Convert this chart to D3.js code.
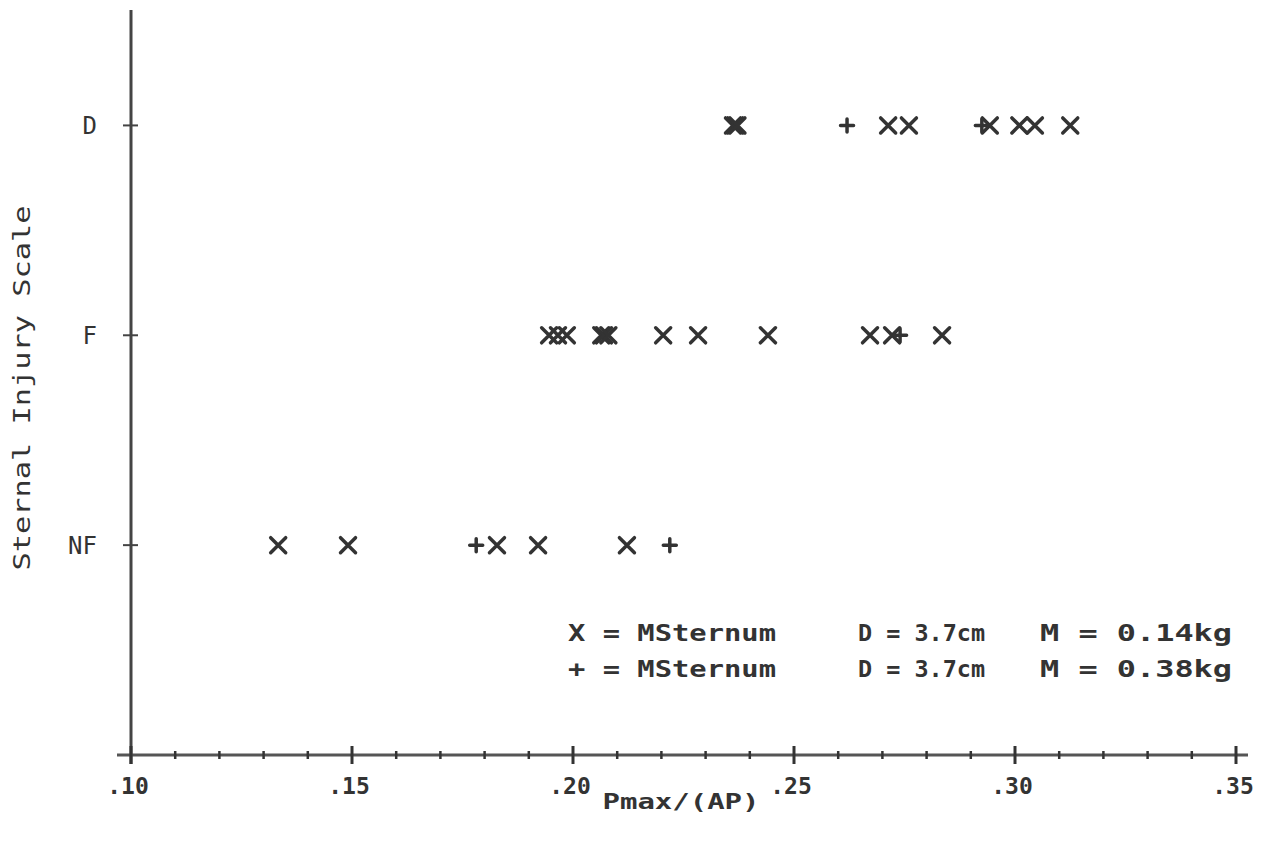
<!DOCTYPE html>
<html>
<head>
<meta charset="utf-8">
<script src="https://cdn.jsdelivr.net/npm/d3@7"></script>
<style>
  body { margin: 0; background: #fff; }
  text { fill: #333; }
</style>
</head>
<body>
<svg id="chart"></svg>
<script>
// categories on the y axis, bottom to top
const categories = ["NF", "F", "D"];

// X markers: M = 0.14kg
const lightNF = [0.1333, 0.1491, 0.1828, 0.1921, 0.2122];
const lightF = [0.1946, 0.1966, 0.1986, 0.2064, 0.2070, 0.2080, 0.2204, 0.2283, 0.2441, 0.2672, 0.2722, 0.2835];
const lightD = [0.2362, 0.2367, 0.2372, 0.2713, 0.2760, 0.2943, 0.3010, 0.3045, 0.3125];

// + markers: M = 0.38kg
const heavyNF = [0.1781, 0.2219];
const heavyF = [0.2740];
const heavyD = [0.2620, 0.2925];

const xTicks = d3.range(10, 36).map(d => d / 100);
const xMajor = [0.10, 0.15, 0.20, 0.25, 0.30, 0.35];

const legendRows = [
  ["X = MSternum", "D = 3.7cm", "M = 0.14kg"],
  ["+ = MSternum", "D = 3.7cm", "M = 0.38kg"]
];

const width = 1269, height = 843;
const ink = "#333";
const mono = "DejaVu Sans Mono, monospace";

const svg = d3.select("#chart").attr("width", width).attr("height", height);

const x = d3.scaleLinear().domain([0.10, 0.35]).range([131, 1236]);
const y = d3.scaleLinear().domain([0, 3.55]).range([755, 10]);

const isMajor = d => xMajor.some(m => Math.abs(m - d) < 1e-6);

// axes
svg.append("line")
    .attr("x1", x(0.10)).attr("x2", x(0.10))
    .attr("y1", y(3.55)).attr("y2", y(0) + 9)
    .attr("stroke", "#444").attr("stroke-width", 3);
svg.append("line")
    .attr("x1", x(0.10) - 14).attr("x2", x(0.35) + 12)
    .attr("y1", y(0)).attr("y2", y(0))
    .attr("stroke", "#555").attr("stroke-width", 3);

svg.append("g")
  .selectAll("line")
  .data(xTicks)
  .join("line")
    .attr("x1", d => x(d)).attr("x2", d => x(d))
    .attr("y1", d => y(0) - (isMajor(d) ? 9 : 4))
    .attr("y2", d => y(0) + (isMajor(d) ? 9 : 4))
    .attr("stroke", "#333")
    .attr("stroke-width", d => isMajor(d) ? 3 : 2.5);

const fmt = d => d3.format(".2f")(d).replace(/^0/, "");
svg.append("g")
    .attr("font-family", mono)
    .attr("font-weight", "bold")
    .attr("font-size", 23)
    .attr("text-anchor", "middle")
  .selectAll("text")
  .data(xMajor)
  .join("text")
    .attr("x", d => x(d) - 3)
    .attr("y", 794)
    .text(fmt);

svg.append("text")
    .attr("x", 681).attr("y", 809)
    .attr("text-anchor", "middle")
    .attr("font-family", mono)
    .attr("font-weight", "bold")
    .attr("font-size", 22)
    .attr("textLength", 157)
    .attr("lengthAdjust", "spacingAndGlyphs")
    .text("Pmax/(AP)");

// y ticks and labels
svg.append("g")
  .selectAll("line")
  .data(categories)
  .join("line")
    .attr("x1", x(0.10) - 8).attr("x2", x(0.10) + 7)
    .attr("y1", (d, i) => y(i + 1)).attr("y2", (d, i) => y(i + 1))
    .attr("stroke", "#444").attr("stroke-width", 2);

svg.append("g")
    .attr("font-family", mono)
    .attr("font-size", 24)
    .attr("text-anchor", "end")
  .selectAll("text")
  .data(categories)
  .join("text")
    .attr("x", 97)
    .attr("y", (d, i) => y(i + 1) + 9)
    .text(d => d);

svg.append("text")
    .attr("transform", "translate(30,388) rotate(-90)")
    .attr("text-anchor", "middle")
    .attr("font-family", mono)
    .attr("font-size", 23)
    .attr("textLength", 365)
    .attr("lengthAdjust", "spacingAndGlyphs")
    .text("Sternal Injury Scale");

// markers
const cross = s => `M${-s},${-s}L${s},${s}M${-s},${s}L${s},${-s}`;
const plus = s => `M${-s},0L${s},0M0,${-s}L0,${s}`;

const lightPts = [lightNF, lightF, lightD].flatMap((arr, i) => arr.map(v => [v, i + 1]));
const heavyPts = [heavyNF, heavyF, heavyD].flatMap((arr, i) => arr.map(v => [v, i + 1]));

svg.append("g")
  .selectAll("path")
  .data(lightPts)
  .join("path")
    .attr("transform", d => `translate(${x(d[0])},${y(d[1])})`)
    .attr("d", cross(7.5))
    .attr("fill", "none").attr("stroke", ink).attr("stroke-width", 3.5)
    .attr("stroke-linecap", "round");

svg.append("g")
  .selectAll("path")
  .data(heavyPts)
  .join("path")
    .attr("transform", d => `translate(${x(d[0])},${y(d[1])})`)
    .attr("d", plus(6.5))
    .attr("fill", "none").attr("stroke", ink).attr("stroke-width", 3.5)
    .attr("stroke-linecap", "round");

// legend
const legendX = [568, 858, 1040];
const legendW = [208, 127, 192];
const legend = svg.append("g")
    .attr("font-family", mono)
    .attr("font-weight", "bold")
    .attr("font-size", 23);
legendRows.forEach((row, r) => {
  legend.selectAll(null)
    .data(row)
    .join("text")
      .attr("x", (d, i) => legendX[i])
      .attr("y", 641 + r * 36)
      .attr("textLength", (d, i) => legendW[i])
      .attr("lengthAdjust", "spacingAndGlyphs")
      .text(d => d);
});
</script>
</body>
</html>
